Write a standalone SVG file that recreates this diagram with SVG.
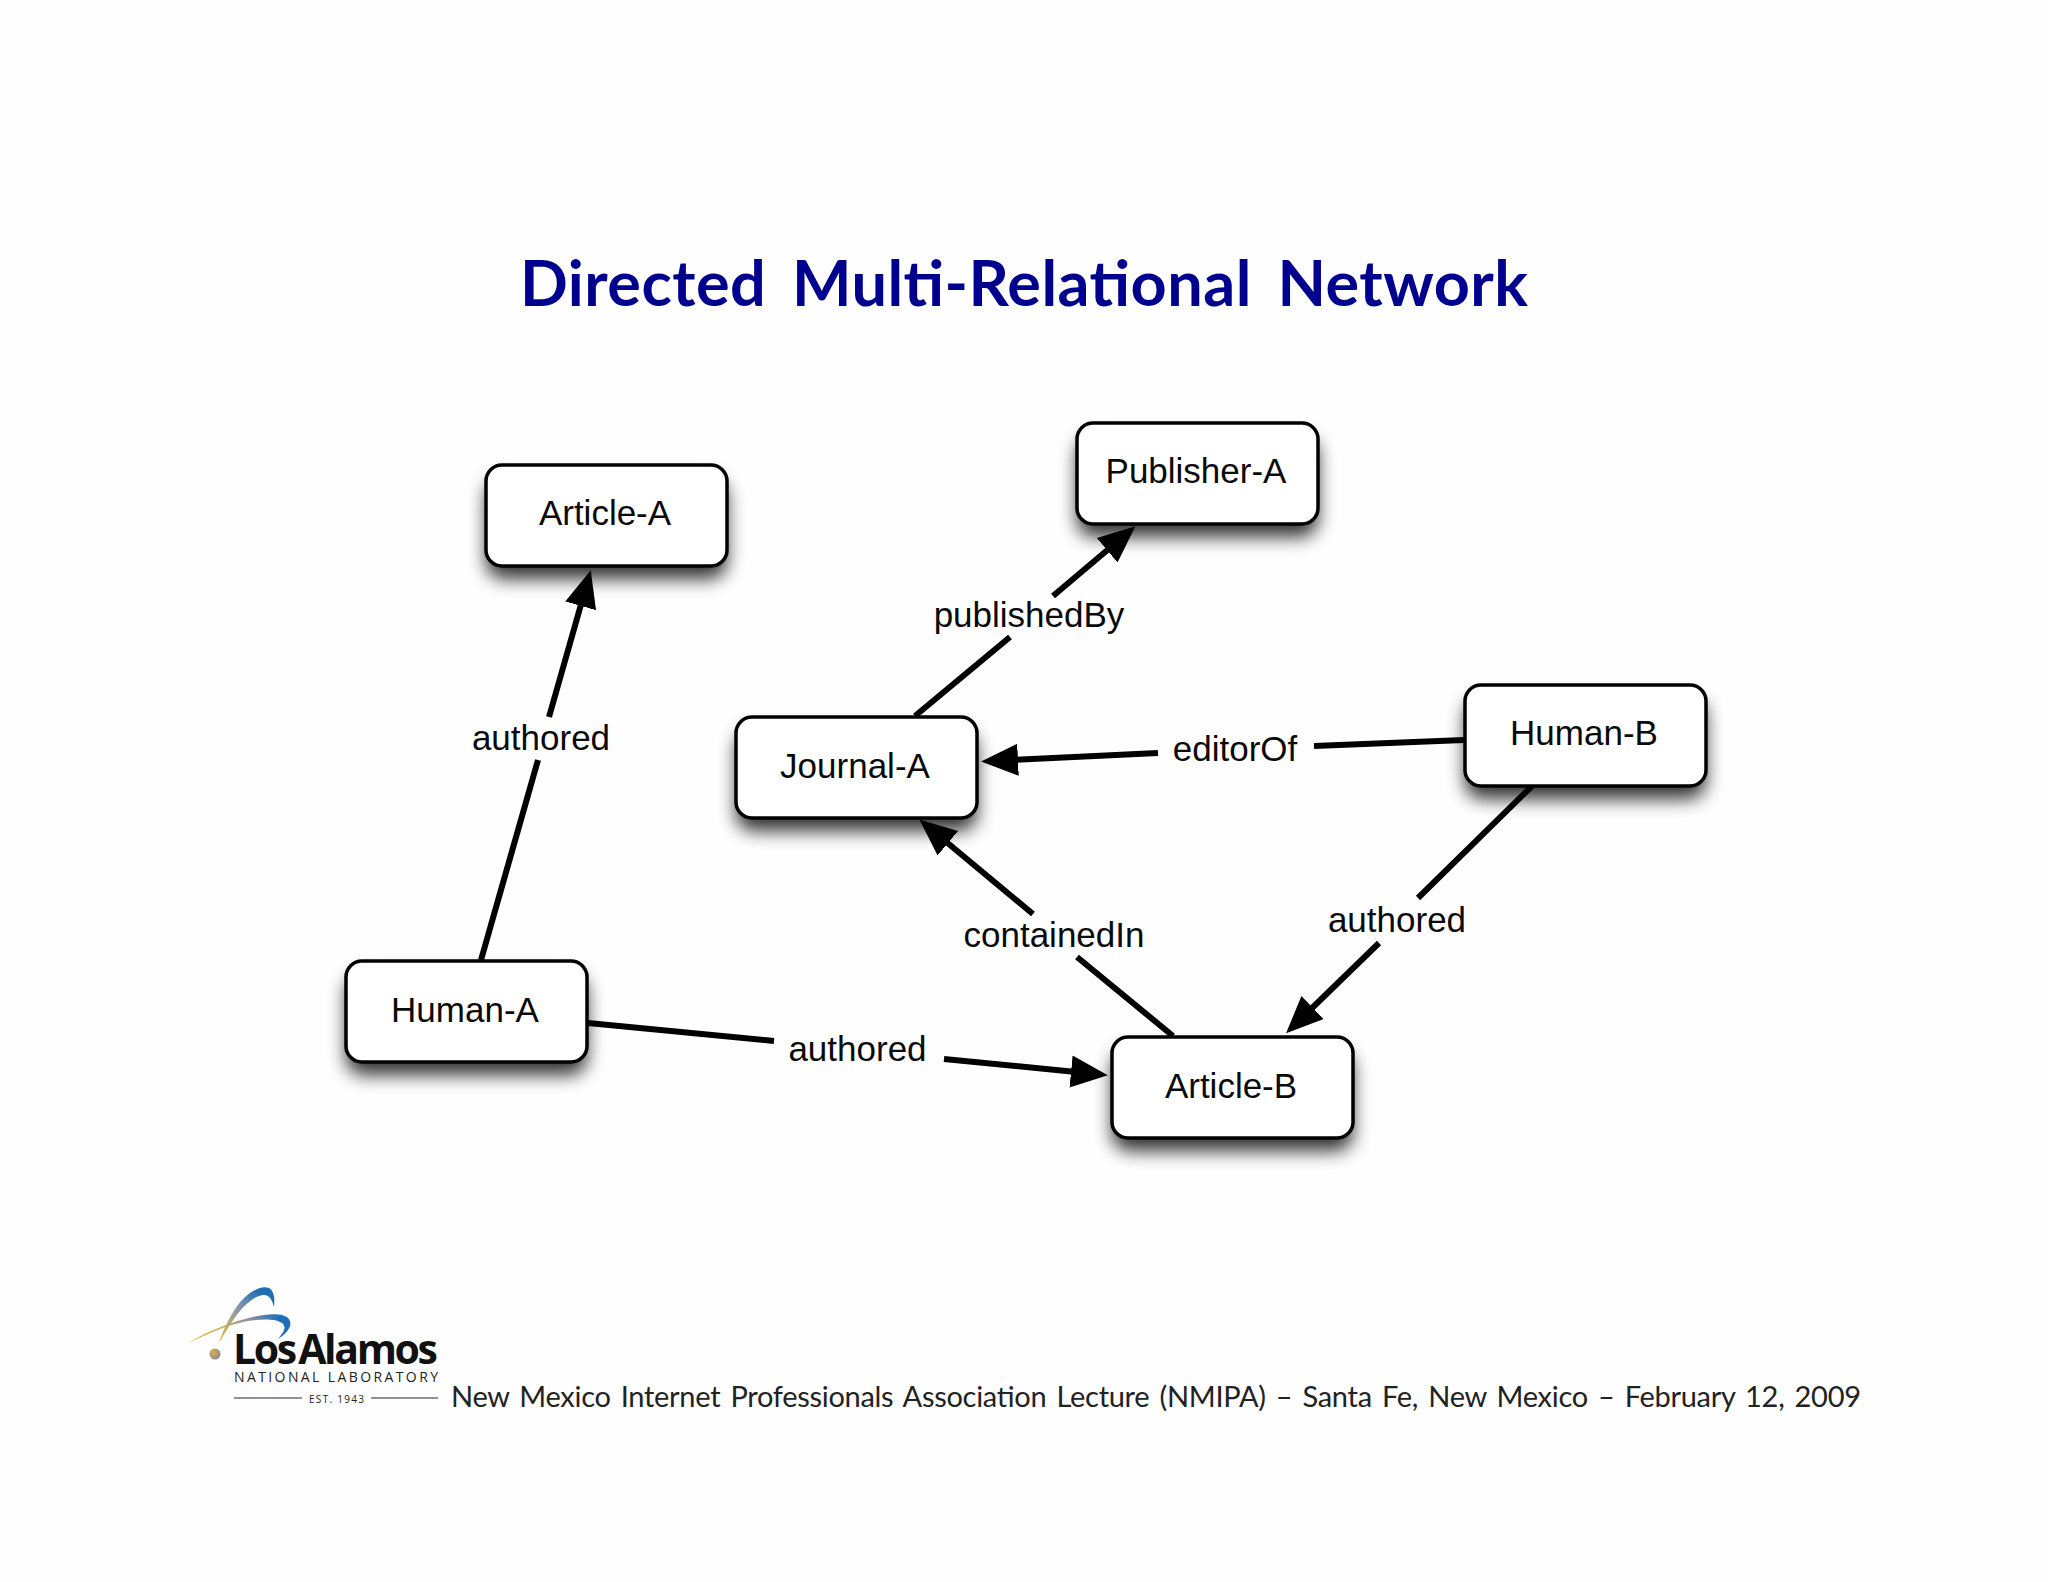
<svg xmlns="http://www.w3.org/2000/svg" width="2048" height="1582" viewBox="0 0 2048 1582">
<style>
.node rect.b{fill:#fff;stroke:#000;stroke-width:3.5}
.node rect.s{fill:#000;opacity:.8;filter:url(#sh)}
.node text,.lab{font-family:"Liberation Sans",Arial,sans-serif;font-size:35px;fill:#0a0a0a;text-anchor:middle}
#connectors line{stroke:#000;stroke-width:6;fill:none}
.arr{marker-end:url(#ah)}
</style>
<defs>
<marker id="ah" markerUnits="userSpaceOnUse" markerWidth="50" markerHeight="40" viewBox="0 -20 50 40" refX="5" refY="0" orient="auto"><path d="M0,-16 L37,0 L0,16 Z" fill="#000"/></marker>
<filter id="sh" x="-20%" y="-40%" width="140%" height="190%"><feGaussianBlur stdDeviation="9"/></filter>
<linearGradient id="g1" gradientUnits="userSpaceOnUse" x1="188" y1="1343" x2="291" y2="1323"><stop offset="0" stop-color="#e6b020"/><stop offset=".35" stop-color="#c8b060"/><stop offset=".6" stop-color="#8f949c"/><stop offset=".9" stop-color="#1f6fb8"/></linearGradient>
<linearGradient id="g2" gradientUnits="userSpaceOnUse" x1="219" y1="1343" x2="273" y2="1290"><stop offset="0" stop-color="#e6b020"/><stop offset=".3" stop-color="#b0a880"/><stop offset=".55" stop-color="#7f93ab"/><stop offset=".85" stop-color="#1f6fb8"/></linearGradient>
<radialGradient id="g3" cx=".35" cy=".35" r=".75"><stop offset="0" stop-color="#e4b040"/><stop offset="1" stop-color="#8088a0"/></radialGradient>
</defs>
<rect width="2048" height="1582" fill="#fefefe"/>
<text x="520" y="306" font-family="Lato,sans-serif" font-weight="700" font-size="63" fill="#00008f" word-spacing="10" textLength="1008" lengthAdjust="spacing">Directed Multi-Relational Network</text>
<g id="connectors">
<line x1="481" y1="960" x2="538" y2="760"/><line class="arr" x1="549" y1="717" x2="582" y2="601"/>
<line x1="915" y1="716" x2="1010" y2="637"/><line class="arr" x1="1053" y1="596" x2="1111" y2="547"/>
<line x1="1464" y1="740" x2="1314" y2="746"/><line class="arr" x1="1158" y1="753" x2="1013" y2="760"/>
<line x1="1173" y1="1036" x2="1077" y2="957"/><line class="arr" x1="1033" y1="914" x2="944" y2="840"/>
<line x1="1532" y1="786" x2="1418" y2="898"/><line class="arr" x1="1379" y1="943" x2="1309" y2="1011"/>
<line x1="588" y1="1023" x2="774" y2="1041"/><line class="arr" x1="944" y1="1059" x2="1076" y2="1072"/>
</g>
<g id="edge-labels">
<text class="lab" x="541" y="750">authored</text>
<text class="lab" x="1029" y="627">publishedBy</text>
<text class="lab" x="1235" y="761">editorOf</text>
<text class="lab" x="1054" y="947">containedIn</text>
<text class="lab" x="1397" y="932">authored</text>
<text class="lab" x="857.500" y="1061">authored</text>
</g>
<g id="article-a" class="node"><rect class="s" x="486" y="479" width="241" height="100" rx="18"/><rect class="b" x="486" y="465" width="241" height="101" rx="16"/><text x="605" y="525">Article-A</text></g>
<g id="publisher-a" class="node"><rect class="s" x="1077" y="437" width="241" height="100" rx="18"/><rect class="b" x="1077" y="423" width="241" height="101" rx="16"/><text x="1196" y="483">Publisher-A</text></g>
<g id="journal-a" class="node"><rect class="s" x="736" y="731" width="241" height="100" rx="18"/><rect class="b" x="736" y="717" width="241" height="101" rx="16"/><text x="855" y="778">Journal-A</text></g>
<g id="human-b" class="node"><rect class="s" x="1465" y="699" width="241" height="100" rx="18"/><rect class="b" x="1465" y="685" width="241" height="101" rx="16"/><text x="1584" y="745">Human-B</text></g>
<g id="human-a" class="node"><rect class="s" x="346" y="975" width="241" height="100" rx="18"/><rect class="b" x="346" y="961" width="241" height="101" rx="16"/><text x="465" y="1022">Human-A</text></g>
<g id="article-b" class="node"><rect class="s" x="1112" y="1051" width="241" height="100" rx="18"/><rect class="b" x="1112" y="1037" width="241" height="101" rx="16"/><text x="1231" y="1098">Article-B</text></g>
<g id="logo">
<path d="M188,1343 C205,1333 225,1324 245,1319 C262,1314 281,1312 288,1318 C294,1324 288,1333 278,1339 C284,1332 287,1327 282,1323 C275,1318 258,1319 243,1322 C225,1326 205,1335 188,1343 Z" fill="url(#g1)"/>
<path d="M219,1343 C223,1330 231,1313 241,1301 C250,1291 262,1285 269,1288 C274,1291 275,1298 274,1307 C272,1300 270,1296 265,1295 C256,1294 244,1305 236,1316 C229,1326 223,1336 219,1343 Z" fill="url(#g2)"/>
<circle cx="215" cy="1354" r="5.5" fill="url(#g3)"/>
<text x="233" y="1364" font-family="'Open Sans',sans-serif" font-weight="700" font-size="41" fill="#111" word-spacing="-5" textLength="205" lengthAdjust="spacing">Los Alamos</text>
<text x="234" y="1382" font-family="'Open Sans',sans-serif" font-size="14" fill="#222" textLength="204" lengthAdjust="spacing">NATIONAL LABORATORY</text>
<text x="309" y="1403" font-family="'Open Sans',sans-serif" font-size="10" fill="#222" textLength="55" lengthAdjust="spacing">EST. 1943</text>
<line x1="234" y1="1398" x2="302" y2="1398" stroke="#222" stroke-width="1"/><line x1="371" y1="1398" x2="438" y2="1398" stroke="#222" stroke-width="1"/>
</g>
<text x="451" y="1407" font-family="Lato,sans-serif" font-size="29" fill="#222" word-spacing="3" textLength="1410" lengthAdjust="spacing">New Mexico Internet Professionals Association Lecture (NMIPA) – Santa Fe, New Mexico – February 12, 2009</text>
</svg>
